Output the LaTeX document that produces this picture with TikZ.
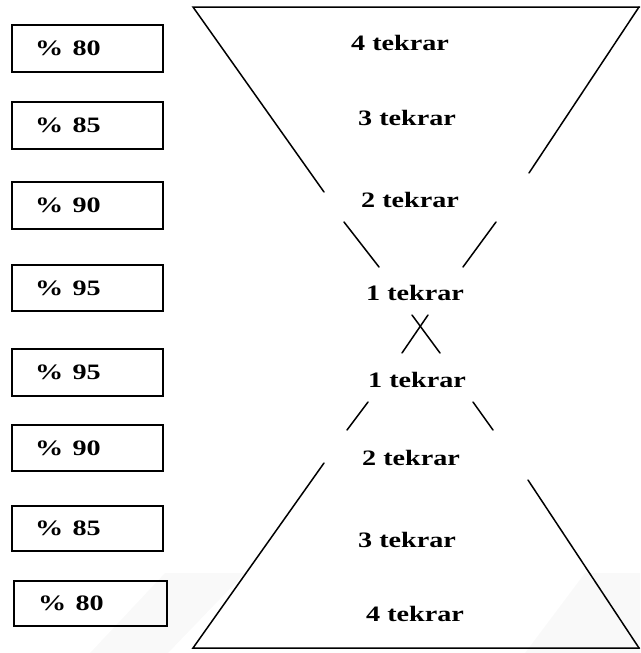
\documentclass[tikz,border=0pt]{standalone}
\usepackage{fontspec}
\usepackage{graphicx}
\setmainfont{Liberation Serif}
\newcommand{\lbl}[1]{\scalebox{1.28}[1]{\bfseries #1}}
\begin{document}
\begin{tikzpicture}[x=1pt,y=-1pt,
  pbox/.style={draw, line width=1.5pt, inner sep=0pt, minimum width=151pt,
    minimum height=46pt, text width=105pt, align=left, font=\fontsize{22}{24}\selectfont},
  tlbl/.style={inner sep=0pt, font=\fontsize{22}{24}\selectfont},
  edge/.style={line width=1.5pt, line cap=round}]
\useasboundingbox (0,0) rectangle (640,653);
% faint watermark stripes
\fill[gray!5] (165,573) -- (245,573) -- (168,653) -- (90,653) -- cycle;
\fill[gray!5] (585,573) -- (640,573) -- (640,653) -- (525,653) -- cycle;
% boxes
\node[pbox, minimum height=47pt] (b1) at (87.5,48.5) {\lbl{\% 80}};
\node[pbox, minimum height=47pt] (b2) at (87.5,125.5) {\lbl{\% 85}};
\node[pbox, minimum height=47pt] (b3) at (87.5,205.5) {\lbl{\% 90}};
\node[pbox] (b4) at (87.5,288) {\lbl{\% 95}};
\node[pbox, minimum height=47pt] (b5) at (87.5,372.5) {\lbl{\% 95}};
\node[pbox] (b6) at (87.5,448) {\lbl{\% 90}};
\node[pbox, minimum height=45pt] (b7) at (87.5,528.5) {\lbl{\% 85}};
\node[pbox, minimum height=45pt, minimum width=153pt] (b8) at (90.5,603.5) {\lbl{\% 80}};
% labels
\node[tlbl] (u4) at (400,43) {\lbl{4 tekrar}};
\node[tlbl] (u3) at (407,118) {\lbl{3 tekrar}};
\node[tlbl] (u2) at (410,200) {\lbl{2 tekrar}};
\node[tlbl] (u1) at (415,293) {\lbl{1 tekrar}};
\node[tlbl] (l1) at (417,380) {\lbl{1 tekrar}};
\node[tlbl] (l2) at (411,458) {\lbl{2 tekrar}};
\node[tlbl] (l3) at (407,540) {\lbl{3 tekrar}};
\node[tlbl] (l4) at (415,614) {\lbl{4 tekrar}};
% upper funnel
\draw[edge] (639.5,7) -- (193,7) -- (324,192);
\draw[edge] (344,222) -- (379,267);
\draw[edge] (639,7) -- (529,173);
\draw[edge] (496,222) -- (463,267);
% cross
\draw[edge] (402,353) -- (428,315);
\draw[edge] (440,353) -- (412,315);
% lower funnel
\draw[edge] (639.5,648) -- (193,648) -- (324,463);
\draw[edge] (347,430) -- (368,402);
\draw[edge] (639,648) -- (528,480);
\draw[edge] (473,402) -- (493,430);
\end{tikzpicture}
\end{document}
